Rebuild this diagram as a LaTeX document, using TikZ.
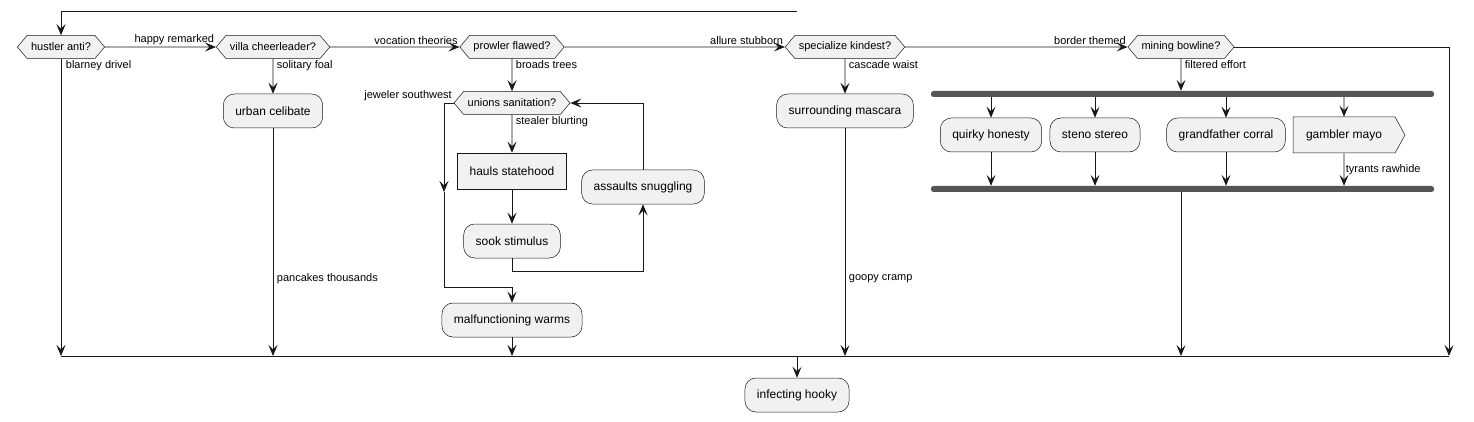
\documentclass[tikz,border=0pt]{standalone}
\usepackage{fontspec}
\setmainfont{Liberation Sans}
\usepackage{xcolor}
\usepackage{tikz}
\usetikzlibrary{shapes.symbols, arrows.meta}
\definecolor{boxfill}{HTML}{F1F1F1}
\definecolor{boxline}{HTML}{181818}
\definecolor{barfill}{HTML}{555555}
\tikzset{
    baseblock/.style={draw=boxline, fill=boxfill, line width=0.5pt, text centered, font=\fontsize{12}{14}\selectfont, inner xsep=12pt, inner ysep=0pt},
    actionblock/.style={baseblock, rectangle, rounded corners=11pt, minimum height=34pt},
    plainblock/.style={baseblock, rectangle, minimum height=36pt},
    signalblock/.style={baseblock, signal, signal to=east, signal pointer angle=122, minimum height=36pt},
    decision/.style={baseblock, signal, signal to=east and west, signal pointer angle=100, font=\fontsize{11}{13}\selectfont, inner xsep=4pt, minimum height=23pt},
    syncbar/.style={rectangle, fill=barfill, rounded corners=2.5pt, minimum height=6pt, minimum width=503pt, inner sep=0pt},
    edgelabel/.style={font=\fontsize{11}{13}\selectfont, inner sep=1.5pt},
    arrow/.style={line width=0.8pt, draw=boxline, -{Stealth[length=11pt, width=9pt, inset=4.5pt]}},
    line/.style={line width=0.8pt, draw=boxline}
}
\begin{document}
\begin{tikzpicture}[x=1pt, y=-1pt]
    \useasboundingbox (0,0) rectangle (1474,422);

    \node (hustler) [decision] at (61,47) {hustler anti?};
    \node (villa) [decision] at (273,47) {villa cheerleader?};
    \node (prowler) [decision] at (512,47) {prowler flawed?};
    \node (specialize) [decision] at (845,47) {specialize kindest?};
    \node (mining) [decision] at (1181,47) {mining bowline?};

    \node (urban) [actionblock] at (273,111) {urban celibate};
    \node (unions) [decision] at (512,103) {unions sanitation?};
    \node (hauls) [plainblock] at (512,171) {hauls statehood};
    \node (sook) [actionblock] at (512,241) {sook stimulus};
    \node (assaults) [actionblock] at (643,187) {assaults snuggling};
    \node (malfunc) [actionblock] at (512,320) {malfunctioning warms};
    \node (mascara) [actionblock] at (845,111) {surrounding mascara};
    \node (forkbar) [syncbar] at (1182.5,94) {};
    \node (quirky) [actionblock] at (991,135) {quirky honesty};
    \node (steno) [actionblock] at (1095,135) {steno stereo};
    \node (grandfather) [actionblock] at (1226,135) {grandfather corral};
    \node (gambler) [signalblock, inner xsep=13pt] at (1344,135) {gambler mayo};
    \node (joinbar) [syncbar] at (1182.5,189) {};
    \node (hooky) [actionblock] at (797,395) {infecting hooky};

    \coordinate (loopstart) at (797,11);
    \coordinate (mergeL) at (61,356);
    \coordinate (mergeR) at (1449,356);
    \coordinate (mergeC) at (797,356);
    \coordinate (jewelmid) at (444,192);
    \coordinate (jewelturn) at (512,287);
    \coordinate (sookturn) at (643,271);

    \draw [arrow] (loopstart) -| (hustler);
    \draw [arrow] (hustler) -- node[edgelabel, anchor=south east, pos=1] {happy remarked} (villa);
    \draw [arrow] (villa) -- node[edgelabel, anchor=south east, pos=1] {vocation theories} (prowler);
    \draw [arrow] (prowler) -- node[edgelabel, anchor=south east, pos=1] {allure stubborn} (specialize);
    \draw [arrow] (specialize) -- node[edgelabel, anchor=south east, pos=1] {border themed} (mining);
    \draw [arrow] (mining) -| (mergeR);

    \draw [arrow] (hustler) -- node[edgelabel, anchor=north west, pos=0, xshift=3pt] {blarney drivel} (hustler |- mergeL);
    \draw [arrow] (villa) -- node[edgelabel, anchor=north west, pos=0, xshift=2pt] {solitary foal} (urban);
    \draw [arrow] (urban) -- node[edgelabel, anchor=west, pos=0.66, xshift=2pt] {pancakes thousands} (urban |- mergeL);

    \draw [arrow] (prowler) -- node[edgelabel, anchor=north west, pos=0, xshift=2pt] {broads trees} (unions);
    \draw [arrow] (unions) -- node[edgelabel, anchor=north west, pos=0, xshift=2pt] {stealer blurting} (hauls);
    \draw [arrow] (hauls) -- (sook);
    \draw [arrow] (sook) |- (sookturn) -- (assaults);
    \draw [arrow] (assaults) |- (unions);
    \draw [arrow] (unions) -| node[edgelabel, anchor=south east, pos=0] {jeweler southwest} (jewelmid);
    \draw [arrow] (jewelmid) |- (jewelturn) -- (malfunc);
    \draw [arrow] (malfunc) -- (malfunc |- mergeL);

    \draw [arrow] (specialize) -- node[edgelabel, anchor=north west, pos=0, xshift=2pt] {cascade waist} (mascara);
    \draw [arrow] (mascara) -- node[edgelabel, anchor=west, pos=0.66, xshift=2pt] {goopy cramp} (mascara |- mergeL);

    \draw [arrow] (mining) -- node[edgelabel, anchor=north west, pos=0, xshift=2pt] {filtered effort} (mining |- forkbar.north);
    \draw [arrow] (quirky |- forkbar.south) -- (quirky);
    \draw [arrow] (steno |- forkbar.south) -- (steno);
    \draw [arrow] (grandfather |- forkbar.south) -- (grandfather);
    \draw [arrow] (gambler |- forkbar.south) -- (gambler);
    \draw [arrow] (quirky) -- (quirky |- joinbar.north);
    \draw [arrow] (steno) -- (steno |- joinbar.north);
    \draw [arrow] (grandfather) -- (grandfather |- joinbar.north);
    \draw [arrow] (gambler) -- node[edgelabel, anchor=west, pos=0.5] {tyrants rawhide} (gambler |- joinbar.north);
    \draw [arrow] (mining |- joinbar.south) -- (mining |- mergeL);

    \draw [line] (mergeL) -- (mergeR);
    \draw [arrow] (mergeC) -- (hooky);
\end{tikzpicture}
\end{document}
